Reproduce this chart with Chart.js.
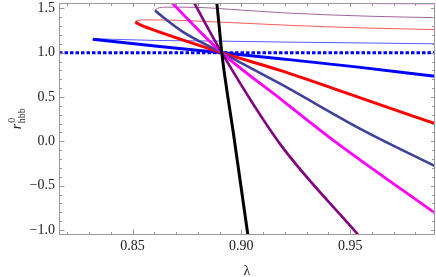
<!DOCTYPE html>
<html>
<head>
<meta charset="utf-8">
<script src="https://cdn.jsdelivr.net/npm/chart.js@4.4.0/dist/chart.umd.min.js"></script>
<style>
  html, body { margin: 0; padding: 0; background: #fff; }
</style>
</head>
<body>
<canvas id="chart" width="436" height="277"></canvas>
<script>
// ======== Axis ranges and tick labels ========
const xRange = [0.8162, 0.989];
const yRange = [-1.056, 1.56];
const xMajorTicks = [0.85, 0.90, 0.95];
const xTickLabels = ["0.85", "0.90", "0.95"];
const yMajorTicks = [-1.0, -0.5, 0.0, 0.5, 1.0, 1.5];
const yTickLabels = ["\u22121.0", "\u22120.5", "0.0", "0.5", "1.0", "1.5"];
const xMinorTicks = [0.82, 0.83, 0.84, 0.86, 0.87, 0.88, 0.89, 0.91, 0.92, 0.93, 0.94, 0.96, 0.97, 0.98];
const yMinorTicks = [-0.9, -0.8, -0.7, -0.6, -0.4, -0.3, -0.2, -0.1, 0.1, 0.2, 0.3, 0.4, 0.6, 0.7, 0.8, 0.9, 1.1, 1.2, 1.3, 1.4];

// ======== Reference line ========
const refX = [0.8162, 0.989];
const refY = [1.0, 1.0];

// ======== Thick branches ========
const blueX = [0.8317, 0.8603, 0.891, 0.9178, 0.9537, 0.989];
const blueY = [1.150, 1.075, 1.0, 0.932, 0.837, 0.733];

const redX = [0.8513, 0.853, 0.858, 0.891, 0.9178, 0.9537, 0.989];
const redY = [1.348, 1.32, 1.271, 1.0, 0.80, 0.499, 0.199];

const slateX = [0.8603, 0.8625, 0.8733, 0.891, 0.9178, 0.956, 0.989];
const slateY = [1.477, 1.43, 1.232, 1.0, 0.65, 0.123, -0.28];

const magentaX = [0.8668, 0.891, 0.9178, 0.9423, 0.989];
const magentaY = [1.594, 1.0, 0.481, 0.01, -0.81];

const purpleX = [0.8776, 0.891, 0.9175, 0.9538];
const purpleY = [1.594, 1.0, -0.02, -1.056];

const blackX = [0.8886, 0.8898, 0.891, 0.8966, 0.9030];
const blackY = [1.594, 1.30, 1.0, 0.05, -1.056];

// ======== Thin branches ========
const blueThinX = [0.8317, 0.834, 0.845, 0.8603, 0.891, 0.9178, 0.989];
const blueThinY = [1.150, 1.155, 1.148, 1.138, 1.13, 1.12, 1.10];

const redThinX = [0.8513, 0.8525, 0.856, 0.87, 0.89, 0.9224, 0.955, 0.989];
const redThinY = [1.348, 1.362, 1.37, 1.365, 1.345, 1.308, 1.28, 1.26];

const mauveThinX = [0.8603, 0.8615, 0.866, 0.88, 0.90, 0.9224, 0.96, 0.989];
const mauveThinY = [1.477, 1.50, 1.513, 1.51, 1.48, 1.445, 1.41, 1.395];

const magentaThinX = [0.905, 0.93, 0.96, 0.989];
const magentaThinY = [1.62, 1.565, 1.553, 1.55];

function pts(xs, ys) {
    return xs.map((x, i) => ({ x: x, y: ys[i] }));
}

function series(xs, ys, color, width, extra) {
    return Object.assign({
        data: pts(xs, ys),
        borderColor: color,
        borderWidth: width,
        showLine: true,
        pointRadius: 0,
        fill: false,
        cubicInterpolationMode: "monotone",
        clip: 0
    }, extra || {});
}

// bottom to top
const layers = [
    series(refX, refY, "#0000ff", 3, { borderDash: [3.5, 2], cubicInterpolationMode: "default" }),
    series(blueThinX, blueThinY, "#5a5aff", 1),
    series(redThinX, redThinY, "#ff5a5a", 1),
    series(mauveThinX, mauveThinY, "#a0649a", 1),
    series(magentaThinX, magentaThinY, "#ff55ff", 1),
    series(blueX, blueY, "#0000ff", 3),
    series(redX, redY, "#ff0000", 3),
    series(slateX, slateY, "#40409a", 2.6),
    series(magentaX, magentaY, "#ff00ff", 2.8),
    series(purpleX, purpleY, "#800080", 2.6),
    series(blackX, blackY, "#000000", 3)
];
layers.forEach((d, i) => { d.order = layers.length - i; });

// ======== Frame, ticks and axis titles ========
const framePlugin = {
    id: "frame",
    afterDraw(chart) {
        const { ctx, chartArea: a, scales } = chart;
        const xs = scales.x, ys = scales.y;
        ctx.save();
        ctx.strokeStyle = "#999999";
        ctx.lineWidth = 1;
        ctx.strokeRect(a.left + 0.5, a.top + 0.5, a.right - a.left - 1, a.bottom - a.top - 1);

        ctx.beginPath();
        const xTick = (v, len, lenTop) => {
            const p = Math.round(xs.getPixelForValue(v)) + 0.5;
            ctx.moveTo(p, a.bottom); ctx.lineTo(p, a.bottom - len);
            ctx.moveTo(p, a.top); ctx.lineTo(p, a.top + lenTop);
        };
        const yTick = (v, len, lenRight) => {
            const p = Math.round(ys.getPixelForValue(v)) + 0.5;
            ctx.moveTo(a.left, p); ctx.lineTo(a.left + len, p);
            ctx.moveTo(a.right, p); ctx.lineTo(a.right - lenRight, p);
        };
        xMajorTicks.forEach(v => xTick(v, 5.5, 4));
        xMinorTicks.forEach(v => xTick(v, 3, 3));
        yMajorTicks.forEach(v => yTick(v, 5.5, 4));
        yMinorTicks.forEach(v => yTick(v, 3, 3));
        ctx.stroke();

        // axis titles
        ctx.fillStyle = "#222";
        ctx.textAlign = "center";
        ctx.textBaseline = "alphabetic";
        ctx.font = "14px 'Liberation Serif'";
        ctx.fillText("\u03bb", (a.left + a.right) / 2, 275);

        ctx.translate(21, (a.top + a.bottom) / 2);
        ctx.rotate(-Math.PI / 2);
        ctx.textAlign = "left";
        ctx.font = "italic 14px 'Liberation Serif'";
        const rW = ctx.measureText("r").width;
        ctx.font = "10px 'Liberation Serif'";
        const subW = ctx.measureText("hbb").width;
        const start = -(rW + subW) / 2;
        ctx.font = "italic 14px 'Liberation Serif'";
        ctx.fillText("r", start, 0);
        ctx.font = "10px 'Liberation Serif'";
        ctx.fillText("0", start + rW + 1, -6);
        ctx.fillText("hbb", start + rW + 0.5, 4);
        ctx.restore();
    }
};

const chart = new Chart(document.getElementById("chart").getContext("2d"), {
    type: "scatter",
    data: { datasets: layers },
    options: {
        responsive: false,
        animation: false,
        layout: { padding: { left: 0, right: 1, top: 3, bottom: 0 } },
        plugins: { legend: { display: false }, tooltip: { enabled: false } },
        scales: {
            x: {
                type: "linear",
                min: xRange[0],
                max: xRange[1],
                grid: { display: false, drawTicks: false },
                border: { display: false },
                afterBuildTicks: s => { s.ticks = xMajorTicks.map(v => ({ value: v })); },
                afterFit: s => { s.height = 42; s.paddingLeft = 0; s.paddingRight = 0; },
                ticks: {
                    padding: 3,
                    color: "#222",
                    font: { family: "'Liberation Serif'", size: 14 },
                    maxRotation: 0,
                    callback: v => xTickLabels[xMajorTicks.findIndex(t => Math.abs(t - v) < 1e-6)]
                }
            },
            y: {
                type: "linear",
                min: yRange[0],
                max: yRange[1],
                grid: { display: false, drawTicks: false },
                border: { display: false },
                afterBuildTicks: s => { s.ticks = yMajorTicks.map(v => ({ value: v })); },
                afterFit: s => { s.width = 59; s.paddingTop = 0; s.paddingBottom = 0; },
                ticks: {
                    padding: 4,
                    color: "#222",
                    font: { family: "'Liberation Serif'", size: 14 },
                    callback: v => yTickLabels[yMajorTicks.findIndex(t => Math.abs(t - v) < 1e-6)]
                }
            }
        }
    },
    plugins: [framePlugin]
});
</script>
</body>
</html>
